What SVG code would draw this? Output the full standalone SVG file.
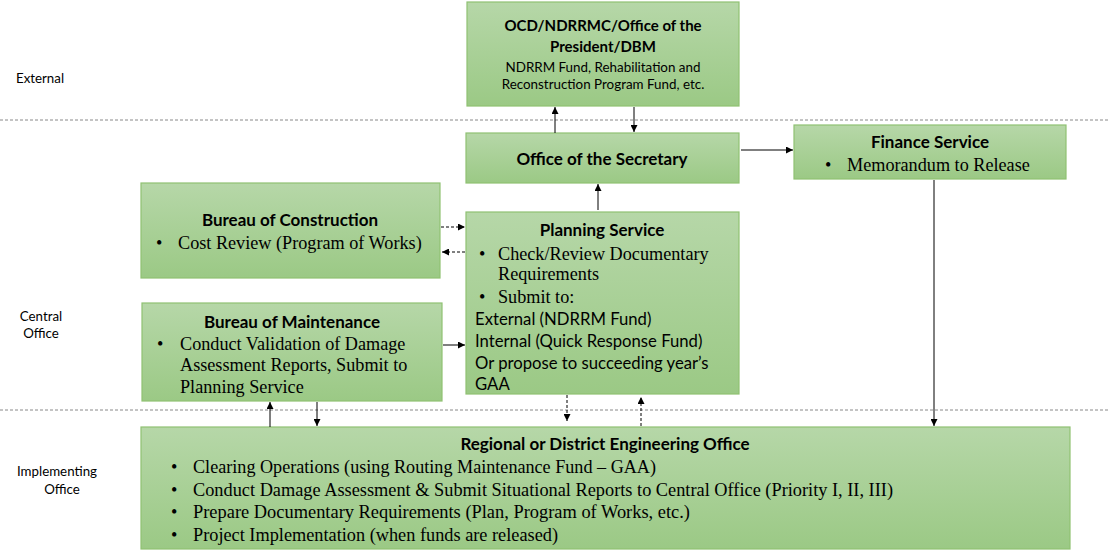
<svg xmlns="http://www.w3.org/2000/svg" width="1110" height="551" viewBox="0 0 1110 551">
<defs>
<linearGradient id="g" x1="0" y1="0" x2="0" y2="1">
<stop offset="0" stop-color="#b6d7a8"/>
<stop offset="1" stop-color="#9bc985"/>
</linearGradient>
<marker id="a" viewBox="0 0 10 10" refX="10" refY="5" markerWidth="7" markerHeight="7" orient="auto" markerUnits="userSpaceOnUse">
<path d="M0,0 L10,5 L0,10 z" fill="#000"/>
</marker>
<style>
.box{fill:url(#g);stroke:#8fc172;stroke-width:1.2}
.t{font-family:Lato,"Noto Sans",sans-serif;font-weight:bold;font-size:17px;fill:#000;text-anchor:middle}
.c{font-family:Lato,"Noto Sans",sans-serif;font-size:16.7px;fill:#000}
.s{font-family:"Liberation Serif",serif;font-size:18.2px;fill:#000}
.lbl{font-family:Lato,"Noto Sans",sans-serif;font-size:13.3px;fill:#000;text-anchor:middle}
.ot{font-family:Lato,"Noto Sans",sans-serif;font-weight:bold;font-size:15px;fill:#000;text-anchor:middle}
.ob{font-family:Lato,"Noto Sans",sans-serif;font-size:13.4px;fill:#000;text-anchor:middle}
.sep{stroke:#888;stroke-width:1;stroke-dasharray:3,2;fill:none}
.ln{stroke:#000;stroke-width:1;fill:none;marker-end:url(#a)}
.dl{stroke:#000;stroke-width:1;fill:none;stroke-dasharray:3,2;marker-end:url(#a)}
</style>
</defs>
<line class="sep" x1="0" y1="120" x2="1110" y2="120"/>
<line class="sep" x1="0" y1="410" x2="1110" y2="410"/>
<g id="labels">
<text class="lbl" x="40" y="83">External</text>
<text class="lbl" x="41" y="321">Central</text>
<text class="lbl" x="41" y="338">Office</text>
<text class="lbl" x="57" y="476">Implementing</text>
<text class="lbl" x="62" y="494">Office</text>
</g>
<g id="ocd">
<rect class="box" x="467" y="2" width="272" height="104"/>
<text class="ot" x="603" y="31">OCD/NDRRMC/Office of the</text>
<text class="ot" x="603" y="52">President/DBM</text>
<text class="ob" x="603" y="72">NDRRM Fund, Rehabilitation and</text>
<text class="ob" x="603" y="89">Reconstruction Program Fund, etc.</text>
</g>
<g id="secretary">
<rect class="box" x="466" y="133" width="273" height="50"/>
<text class="t" x="602" y="165">Office of the Secretary</text>
</g>
<g id="finance">
<rect class="box" x="794" y="125" width="272" height="54"/>
<text class="t" x="930" y="148">Finance Service</text>
<text class="s" x="825" y="171">•</text>
<text class="s" x="847" y="171">Memorandum to Release</text>
</g>
<g id="construction">
<rect class="box" x="141" y="183" width="299" height="95"/>
<text class="t" x="290" y="226">Bureau of Construction</text>
<text class="s" x="156" y="249">•</text>
<text class="s" x="178" y="249">Cost Review (Program of Works)</text>
</g>
<g id="planning">
<rect class="box" x="466" y="212" width="273" height="182"/>
<text class="t" x="602" y="236">Planning Service</text>
<text class="s" x="479" y="260">•</text>
<text class="s" x="498" y="260">Check/Review Documentary</text>
<text class="s" x="498" y="280">Requirements</text>
<text class="s" x="479" y="303">•</text>
<text class="s" x="498" y="303">Submit to:</text>
<text class="c" x="475" y="325">External (NDRRM Fund)</text>
<text class="c" x="475" y="347">Internal (Quick Response Fund)</text>
<text class="c" x="475" y="369">Or propose to succeeding year’s</text>
<text class="c" x="475" y="390">GAA</text>
</g>
<g id="maintenance">
<rect class="box" x="142" y="303" width="300" height="98"/>
<text class="t" x="292" y="328">Bureau of Maintenance</text>
<text class="s" x="157" y="350">•</text>
<text class="s" x="180" y="350">Conduct Validation of Damage</text>
<text class="s" x="180" y="371">Assessment Reports, Submit to</text>
<text class="s" x="180" y="393">Planning Service</text>
</g>
<g id="regional">
<rect class="box" x="141" y="427" width="929" height="122"/>
<text class="t" x="605" y="450">Regional or District Engineering Office</text>
<text class="s" x="171" y="473">•</text>
<text class="s" x="193" y="473" textLength="463" lengthAdjust="spacingAndGlyphs">Clearing Operations (using Routing Maintenance Fund – GAA)</text>
<text class="s" x="171" y="496">•</text>
<text class="s" x="193" y="496" textLength="700" lengthAdjust="spacingAndGlyphs">Conduct Damage Assessment &amp; Submit Situational Reports to Central Office (Priority I, II, III)</text>
<text class="s" x="171" y="518">•</text>
<text class="s" x="193" y="518" textLength="497" lengthAdjust="spacingAndGlyphs">Prepare Documentary Requirements (Plan, Program of Works, etc.)</text>
<text class="s" x="171" y="541">•</text>
<text class="s" x="193" y="541" textLength="365" lengthAdjust="spacingAndGlyphs">Project Implementation (when funds are released)</text>
</g>
<g id="connectors">
<line class="ln" x1="555" y1="133" x2="555" y2="107"/>
<line class="ln" x1="634" y1="107" x2="634" y2="132"/>
<line class="ln" x1="741" y1="150" x2="793" y2="150"/>
<line class="ln" x1="598" y1="210" x2="598" y2="184"/>
<line class="dl" x1="441" y1="227" x2="465" y2="227"/>
<line class="dl" x1="465" y1="252" x2="442" y2="252"/>
<line class="ln" x1="443" y1="345" x2="465" y2="345"/>
<line class="ln" x1="270" y1="427" x2="270" y2="402"/>
<line class="ln" x1="317" y1="402" x2="317" y2="426"/>
<line class="dl" x1="567" y1="395" x2="567" y2="421"/>
<line class="dl" x1="641" y1="426" x2="641" y2="397"/>
<line class="ln" x1="934" y1="180" x2="934" y2="426"/>
</g>
</svg>
